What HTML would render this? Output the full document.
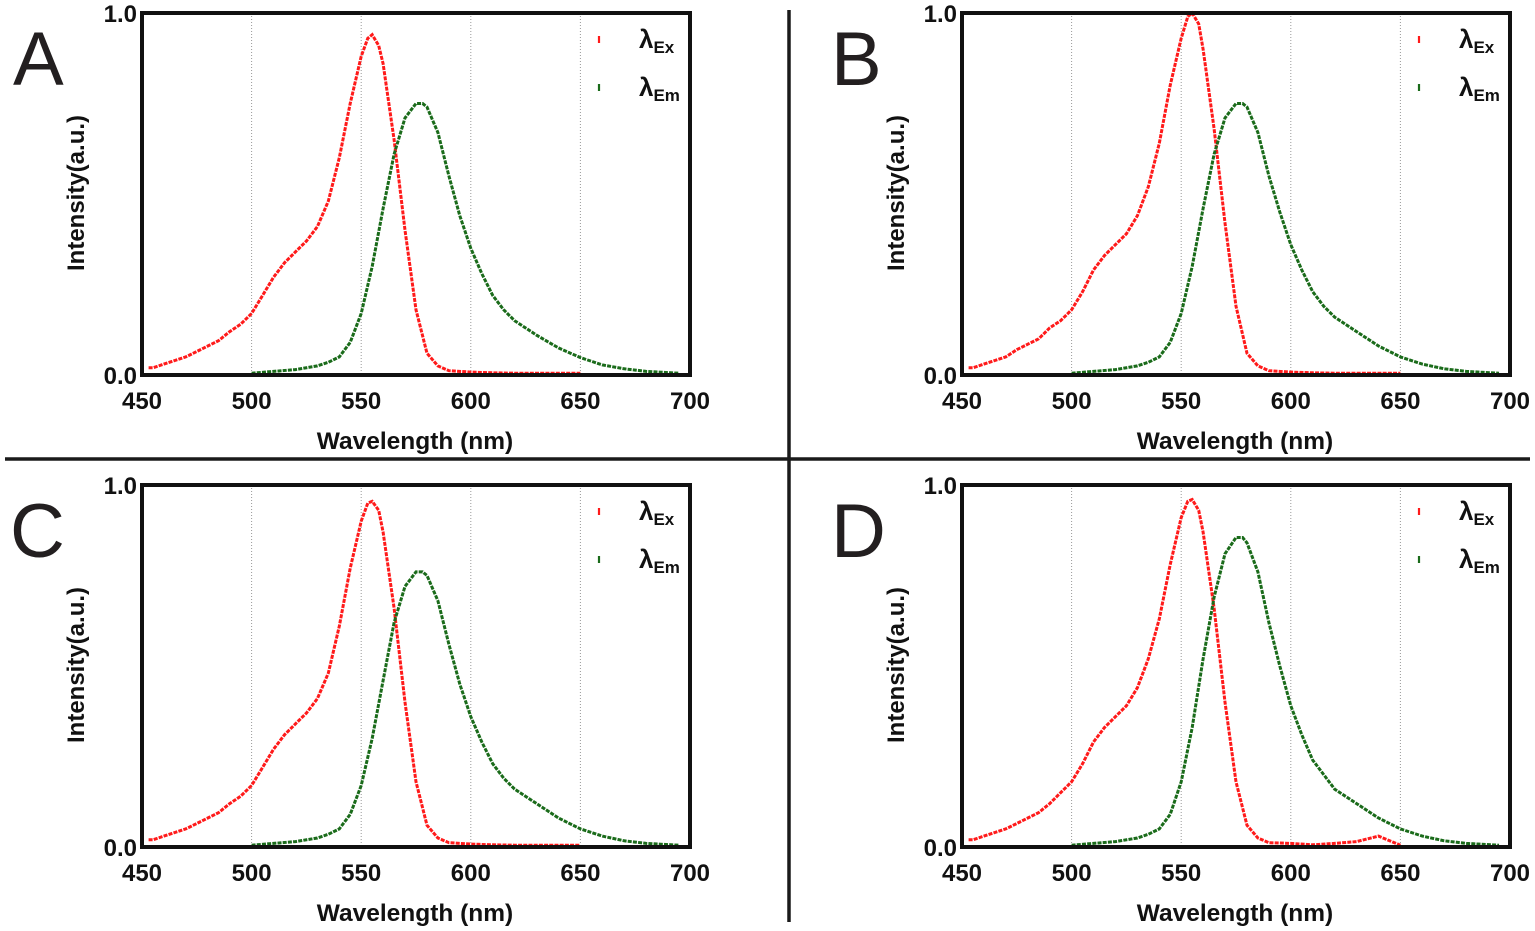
<!DOCTYPE html>
<html><head><meta charset="utf-8"><style>
html,body{margin:0;padding:0;background:#fff;}
svg{display:block;font-family:"Liberation Sans",Arial,sans-serif;}
</style></head><body>
<svg id="fig" width="1535" height="931" viewBox="0 0 1535 931">
<line x1="789" y1="10" x2="789" y2="922" stroke="#1a1a1a" stroke-width="3.5"/>
<line x1="5" y1="459" x2="1530" y2="459" stroke="#1a1a1a" stroke-width="3.5"/>
</svg>
<script>
const wlEx = [453,455,460,465,470,475,480,485,490,495,500,505,510,515,520,525,530,535,540,545,550,553,555,558,560,565,570,575,580,585,590,600,610,620,630,640,650];
const wlEm = [500,510,520,530,535,540,545,550,555,560,565,570,575,578,580,585,590,595,600,605,610,615,620,630,640,650,660,670,680,695];
const exA = [0.02,0.02,0.03,0.04,0.05,0.065,0.08,0.095,0.12,0.14,0.17,0.22,0.27,0.31,0.34,0.37,0.41,0.48,0.6,0.75,0.88,0.93,0.94,0.91,0.86,0.65,0.4,0.18,0.06,0.025,0.012,0.008,0.006,0.005,0.005,0.005,0.005];
const emA = [0.005,0.01,0.015,0.025,0.035,0.05,0.09,0.17,0.3,0.46,0.61,0.71,0.75,0.75,0.74,0.67,0.55,0.44,0.35,0.28,0.22,0.18,0.15,0.11,0.075,0.048,0.028,0.017,0.01,0.005];
const exB = [0.02,0.02,0.03,0.04,0.05,0.07,0.085,0.1,0.13,0.15,0.18,0.23,0.29,0.33,0.36,0.39,0.44,0.52,0.64,0.8,0.93,0.99,1.0,0.97,0.9,0.68,0.42,0.19,0.06,0.025,0.012,0.008,0.006,0.005,0.005,0.005,0.005];
const emB = [0.005,0.01,0.015,0.025,0.035,0.05,0.09,0.17,0.3,0.46,0.61,0.71,0.75,0.75,0.74,0.67,0.55,0.45,0.36,0.29,0.23,0.19,0.16,0.12,0.08,0.05,0.03,0.017,0.01,0.005];
const exC = [0.02,0.02,0.03,0.04,0.05,0.065,0.08,0.095,0.12,0.14,0.17,0.22,0.27,0.31,0.34,0.37,0.41,0.48,0.61,0.77,0.9,0.95,0.955,0.93,0.87,0.66,0.4,0.18,0.06,0.025,0.012,0.008,0.006,0.005,0.005,0.005,0.005];
const emC = [0.005,0.01,0.015,0.025,0.035,0.05,0.09,0.17,0.3,0.46,0.62,0.72,0.76,0.76,0.75,0.68,0.56,0.45,0.36,0.29,0.23,0.19,0.16,0.12,0.08,0.05,0.03,0.017,0.01,0.005];
const exD = [0.02,0.02,0.03,0.04,0.05,0.065,0.08,0.095,0.12,0.15,0.18,0.23,0.29,0.33,0.36,0.39,0.44,0.52,0.63,0.78,0.91,0.955,0.96,0.93,0.87,0.66,0.4,0.18,0.06,0.025,0.012,0.01,0.006,0.01,0.015,0.03,0.005];
const emD = [0.005,0.01,0.015,0.025,0.035,0.05,0.09,0.18,0.33,0.52,0.69,0.81,0.855,0.855,0.84,0.76,0.62,0.5,0.39,0.31,0.24,0.2,0.16,0.12,0.08,0.05,0.03,0.017,0.01,0.005];
const xTicks = [450,500,550,600,650,700];
const yTicks = [0,1];
const gridX = [500,550,600,650];
const panels = [
 {letter:"A",x0:142,y0:13,ex:exA,em:emA,lx:13,ly:85},
 {letter:"B",x0:962,y0:13,ex:exB,em:emB,lx:831,ly:85},
 {letter:"C",x0:142,y0:485,ex:exC,em:emC,lx:10,ly:557},
 {letter:"D",x0:962,y0:485,ex:exD,em:emD,lx:831,ly:557}
];
const NS="http://www.w3.org/2000/svg";
const svg=document.getElementById('fig');
function mk(tag,attrs,parent){const e=document.createElementNS(NS,tag);for(const k in attrs)e.setAttribute(k,attrs[k]);(parent||svg).appendChild(e);return e;}
panels.forEach(p=>{
 const W=548,H=362;
 const sx=v=>p.x0+(v-450)/250*W;
 const sy=v=>p.y0+H-v*H;
 const g=mk('g',{});
 
 
 const L=mk('text',{x:p.lx,y:p.ly,'font-size':76,fill:'#231f20'},g);L.textContent=p.letter;
 
 
 gridX.forEach(v=>{const l=mk('line',{x1:sx(v),x2:sx(v),y1:p.y0,y2:p.y0+H,stroke:'#999','stroke-width':1,'stroke-dasharray':'1 2'},g);
  
  });
 const mkLine=(xs,ys,col,name)=>{const pts=xs.map((x,i)=>sx(x).toFixed(1)+','+sy(ys[i]).toFixed(1)).join(' ');
  const pl=mk('polyline',{points:pts,fill:'none',stroke:col,'stroke-width':3,'stroke-dasharray':'4 1.2'},g);
  
  };
 mkLine(wlEx,p.ex,'#ff1a1a','excitation-series');
 mkLine(wlEm,p.em,'#1a6b1a','emission-series');
 const fr=mk('rect',{x:p.x0,y:p.y0,width:W,height:H,fill:'none',stroke:'#111','stroke-width':4},g);
 
 
 xTicks.forEach(v=>{const t=mk('text',{x:sx(v),y:p.y0+H+34,'font-size':24,'font-weight':'bold','text-anchor':'middle',fill:'#111'},g);t.textContent=String(v);
  
  });
 yTicks.forEach(v=>{const t=mk('text',{x:p.x0-5,y:sy(v)+9,'font-size':24,'font-weight':'bold','text-anchor':'end',fill:'#111'},g);t.textContent=v.toFixed(1);
  
  });
 const xt=mk('text',{x:p.x0+W/2-1,y:p.y0+H+74,'font-size':24.5,'font-weight':'bold','text-anchor':'middle',fill:'#111'},g);xt.textContent='Wavelength (nm)';
 
 
 const yt=mk('text',{x:0,y:0,'font-size':24,'font-weight':'bold','text-anchor':'middle',fill:'#111',transform:`translate(${p.x0-58},${p.y0+H/2-1}) rotate(-90)`},g);yt.textContent='Intensity(a.u.)';
 
 
 [['Ex','#ff1a1a',26],['Em','#1a6b1a',74]].forEach(([s,c,dy])=>{
  const lg=mk('g',{},g);
  
  
  mk('line',{x1:p.x0+457,x2:p.x0+457,y1:p.y0+dy-3,y2:p.y0+dy+4,stroke:c,'stroke-width':2.2},lg);
  const t=mk('text',{x:p.x0+497,y:p.y0+dy+9,'font-size':26,'font-weight':'bold',fill:'#111'},lg);
  t.innerHTML='λ<tspan font-size="17" dy="5">'+s+'</tspan>';
 });
});
</script>
</body></html>
